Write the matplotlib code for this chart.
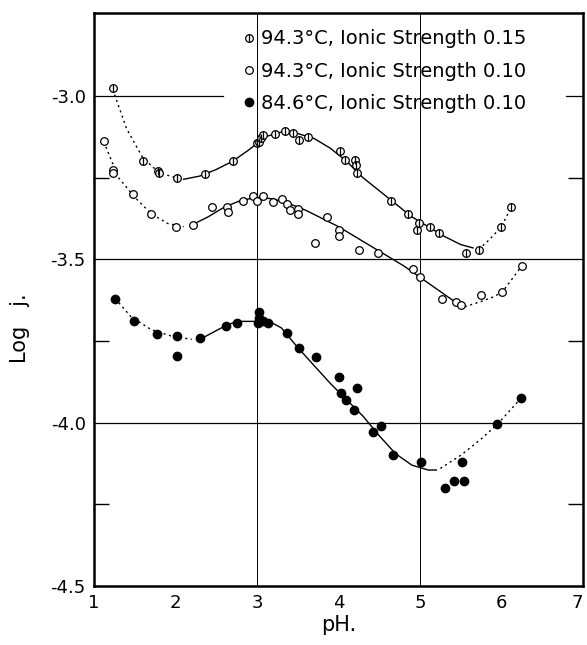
import matplotlib.pyplot as plt
from matplotlib.lines import Line2D

plt.rcParams['font.family'] = 'DejaVu Sans'
plt.rcParams['axes.unicode_minus'] = False

# 94.3 C, ionic strength 0.15 (crossed circles)
ph_a = [1.23, 1.60, 1.79, 1.80, 2.02, 2.36, 2.71, 3.00, 3.03, 3.05, 3.07, 3.22, 3.34,
        3.44, 3.52, 3.62, 4.02, 4.08, 4.20, 4.21, 4.23, 4.64, 4.85, 4.96, 4.99, 5.12,
        5.23, 5.56, 5.72, 5.99, 6.12]
logj_a = [-2.975, -3.20, -3.23, -3.236, -3.25, -3.24, -3.20, -3.145, -3.14, -3.13, -3.12,
          -3.117, -3.107, -3.114, -3.135, -3.125, -3.168, -3.196, -3.196, -3.21, -3.236,
          -3.32, -3.36, -3.41, -3.39, -3.40, -3.42, -3.48, -3.47, -3.40, -3.34]

# 94.3 C, ionic strength 0.10 (open circles)
ph_b = [1.12, 1.23, 1.23, 1.48, 1.70, 2.00, 2.21, 2.45, 2.63, 2.65, 2.83, 2.95, 3.00,
        3.07, 3.20, 3.31, 3.37, 3.40, 3.50, 3.50, 3.71, 3.86, 4.01, 4.01, 4.25, 4.48,
        4.91, 5.00, 5.27, 5.44, 5.50, 5.75, 6.01, 6.25]
logj_b = [-3.137, -3.227, -3.236, -3.30, -3.36, -3.40, -3.395, -3.34, -3.34, -3.355,
          -3.32, -3.307, -3.32, -3.307, -3.325, -3.316, -3.33, -3.35, -3.345, -3.36,
          -3.45, -3.37, -3.41, -3.43, -3.47, -3.48, -3.53, -3.555, -3.62, -3.63, -3.64,
          -3.61, -3.60, -3.52]

# 84.6 C, ionic strength 0.10 (filled circles)
ph_c = [1.26, 1.49, 1.77, 2.02, 2.02, 2.30, 2.62, 2.75, 3.01, 3.02, 3.02, 3.07, 3.14,
        3.37, 3.52, 3.72, 4.01, 4.03, 4.09, 4.19, 4.23, 4.42, 4.52, 4.67, 5.01, 5.31,
        5.42, 5.51, 5.54, 5.95, 6.24]
logj_c = [-3.62, -3.69, -3.73, -3.735, -3.795, -3.74, -3.705, -3.695, -3.695, -3.66,
          -3.68, -3.69, -3.695, -3.725, -3.77, -3.80, -3.86, -3.91, -3.93, -3.96, -3.895,
          -4.03, -4.01, -4.10, -4.12, -4.20, -4.18, -4.12, -4.18, -4.005, -3.925]

# hand drawn curves: (left dotted, solid, right dotted)
curve_a = [
    ([1.23, 1.4, 1.6, 1.8, 2.0, 2.1], [-2.98, -3.10, -3.19, -3.235, -3.25, -3.255]),
    ([2.1, 2.3, 2.5, 2.7, 2.9, 3.0, 3.1, 3.3, 3.5, 3.7, 3.9, 4.1, 4.3, 4.5, 4.7, 4.9,
      5.1, 5.3, 5.5, 5.65],
     [-3.255, -3.245, -3.225, -3.20, -3.165, -3.145, -3.125, -3.11, -3.115, -3.13,
      -3.16, -3.20, -3.25, -3.29, -3.33, -3.37, -3.40, -3.43, -3.455, -3.465]),
    ([5.72, 5.85, 6.0, 6.12], [-3.47, -3.44, -3.40, -3.34]),
]
curve_b = [
    ([1.12, 1.3, 1.5, 1.7, 1.9, 2.1], [-3.14, -3.25, -3.31, -3.36, -3.39, -3.40]),
    ([2.2, 2.4, 2.6, 2.8, 3.0, 3.2, 3.4, 3.6, 3.8, 4.0, 4.2, 4.4, 4.6, 4.8, 5.0, 5.2,
      5.4, 5.5],
     [-3.395, -3.37, -3.34, -3.32, -3.31, -3.315, -3.33, -3.35, -3.375, -3.40, -3.43,
      -3.46, -3.49, -3.52, -3.555, -3.59, -3.625, -3.64]),
    ([5.55, 5.74, 5.9, 6.01, 6.25], [-3.645, -3.63, -3.615, -3.60, -3.52]),
]
curve_c = [
    ([1.26, 1.45, 1.7, 1.95, 2.2], [-3.62, -3.675, -3.715, -3.735, -3.745]),
    ([2.3, 2.45, 2.6, 2.75, 3.0, 3.15, 3.3, 3.5, 3.7, 3.9, 4.1, 4.3, 4.5, 4.7, 4.9,
      5.1, 5.2],
     [-3.745, -3.725, -3.705, -3.69, -3.69, -3.69, -3.71, -3.77, -3.825, -3.88, -3.93,
      -3.98, -4.04, -4.095, -4.13, -4.145, -4.145]),
    ([5.25, 5.5, 5.75, 5.95, 6.24], [-4.14, -4.10, -4.05, -4.005, -3.925]),
]

labels = ["94.3°C, Ionic Strength 0.15",
          "94.3°C, Ionic Strength 0.10",
          "84.6°C, Ionic Strength 0.10"]

fig = plt.figure(figsize=(5.87, 6.45), dpi=100)
ax = fig.add_axes([94 / 587, 59 / 645, 489 / 587, 573 / 645])

dotted = (0, (1.5, 2.5))
for curve in (curve_a, curve_b, curve_c):
    left, mid, right = curve
    ax.plot(left[0], left[1], color='black', lw=1.0, ls=dotted)
    ax.plot(mid[0], mid[1], color='black', lw=1.0)
    ax.plot(right[0], right[1], color='black', lw=1.0, ls=dotted)

ms = 5.5
ax.plot(ph_a, logj_a, 'o', mfc='white', mec='black', mew=0.9, ms=ms, ls='none')
ax.plot(ph_a, logj_a, '|', mec='black', mew=0.9, ms=ms, ls='none')
ax.plot(ph_b, logj_b, 'o', mfc='white', mec='black', mew=0.9, ms=ms, ls='none')
ax.plot(ph_c, logj_c, 'o', mfc='black', mec='black', ms=ms + 0.5, ls='none')

# reference lines
for y in (-3.5, -4.0):
    ax.axhline(y, color='black', lw=0.9, zorder=0)
ax.axhline(-3.0, xmax=0.264, color='black', lw=0.9, zorder=0)
ax.axhline(-3.0, xmin=0.965, color='black', lw=0.9, zorder=0)
for x in (3, 5):
    ax.axvline(x, color='black', lw=0.7, zorder=0)

ax.set_xlim(1, 7)
ax.set_ylim(-4.5, -2.746)
ax.set_xticks([1, 2, 3, 4, 5, 6, 7])
ax.set_xticklabels(['1', '2', '3', '4', '5', '6', '7'])
ax.get_xticklabels()[-1].set_horizontalalignment('right')
ax.set_yticks([-4.5, -4.0, -3.5, -3.0])
ax.set_yticklabels(['-4.5', '-4.0', '-3.5', '-3.0'])
ax.set_xticks([2, 4, 6], minor=True)
ax.set_yticks([-4.25, -3.75, -3.25], minor=True)
ax.tick_params(which='major', length=0, labelsize=13, pad=6)
ax.tick_params(which='minor', direction='in', length=11, width=1.0,
               top=True, right=True)
for s in ax.spines.values():
    s.set_linewidth(1.8)

ax.set_xlabel('pH.', fontsize=15, labelpad=2)
ax.set_ylabel('Log   j.', fontsize=15, labelpad=12)
ax.yaxis.set_label_coords(-0.13, 0.45)

h_a = (Line2D([], [], marker='o', mfc='white', mec='black', mew=0.9, ms=ms, ls='none'),
       Line2D([], [], marker='|', mec='black', mew=0.9, ms=ms, ls='none'))
h_b = Line2D([], [], marker='o', mfc='white', mec='black', mew=0.9, ms=ms, ls='none')
h_c = Line2D([], [], marker='o', mfc='black', mec='black', ms=ms + 0.5, ls='none')
ax.legend([h_a, h_b, h_c], labels, loc='upper left', bbox_to_anchor=(0.29, 0.985),
          frameon=False, fontsize=14, handlelength=0.6, handletextpad=0.3,
          labelspacing=0.68, borderaxespad=0)

fig.savefig('out.png', dpi=100)
